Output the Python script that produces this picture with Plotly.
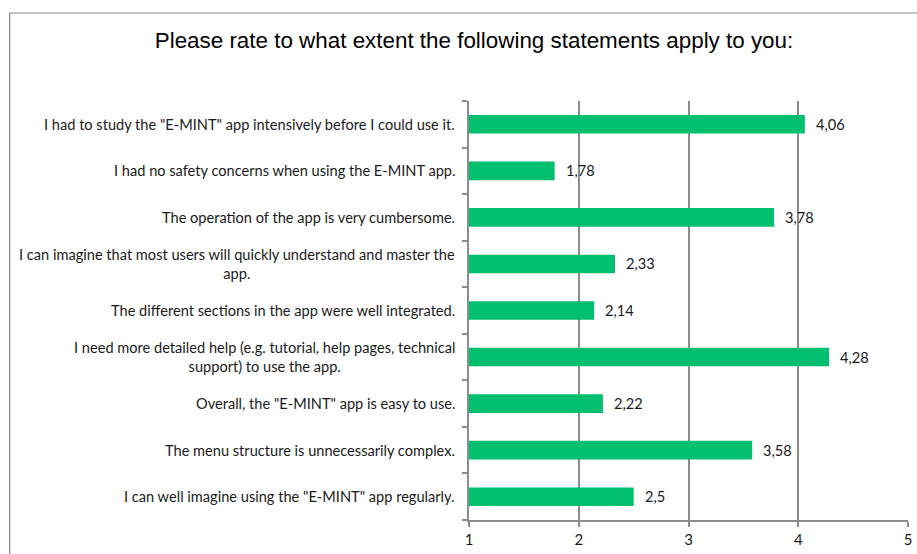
import plotly.graph_objects as go

# Survey statements (top to bottom) and their mean ratings on a 1-5 scale
statements = [
    'I had to study the "E-MINT" app intensively before I could use it.',
    'I had no safety concerns when using the E-MINT app.',
    'The operation of the app is very cumbersome.',
    'I can imagine that most users will quickly understand and master the<br>app.',
    'The different sections in the app were well integrated.',
    'I need more detailed help (e.g. tutorial, help pages, technical<br>support) to use the app.',
    'Overall, the "E-MINT" app is easy to use.',
    'The menu structure is unnecessarily complex.',
    'I can well imagine using the "E-MINT" app regularly.',
]
ratings = [4.06, 1.78, 3.78, 2.33, 2.14, 4.28, 2.22, 3.58, 2.5]
x_ticks = [1, 2, 3, 4, 5]

title_text = "Please rate to what extent the following statements apply to you:"

BAR_COLOR = "#00BF6F"
TEXT_COLOR = "#1a1a1a"
AXIS_COLOR = "#8c8c8c"
LABEL_FONT = "Lato, 'Open Sans', sans-serif"
LABEL_SIZE = 14.6

cats = list(range(len(statements)))
base = x_ticks[0]

fig = go.Figure(
    go.Bar(
        y=cats,
        x=[r - base for r in ratings],
        base=base,
        orientation="h",
        marker=dict(color=BAR_COLOR, line=dict(width=0)),
        width=0.4,
        hoverinfo="skip",
    )
)

# value labels to the right of each bar, with decimal comma
for c, r in zip(cats, ratings):
    fig.add_annotation(
        x=r, y=c, xref="x", yref="y",
        text=f"{r:g}".replace(".", ","),
        showarrow=False, xanchor="left", xshift=9,
        font=dict(family=LABEL_FONT, size=LABEL_SIZE, color=TEXT_COLOR),
    )

# category labels, centred within their block and right-aligned to the axis
for c, s in zip(cats, statements):
    fig.add_annotation(
        x=0, y=c, xref="paper", yref="y",
        text=s, showarrow=False, xanchor="right", xshift=-12,
        align="center",
        font=dict(family=LABEL_FONT, size=LABEL_SIZE, color=TEXT_COLOR),
    )

# chart outline
fig.add_shape(
    type="rect", xref="paper", yref="paper",
    x0=(5.5 - 469) / 443, x1=1.2, y0=-0.3, y1=(520 - 12.5) / 419.4,
    line=dict(color="#8a8a8a", width=1.2), fillcolor="rgba(0,0,0,0)", layer="below",
)

fig.update_layout(
    width=917, height=554,
    margin=dict(l=469, r=5, t=100.6, b=34),
    paper_bgcolor="white", plot_bgcolor="white",
    showlegend=False,
    title=dict(
        text=title_text, x=474 / 917, xref="container", xanchor="center",
        y=1 - 40 / 554, yref="container", yanchor="middle",
        font=dict(family="'Liberation Sans', Arial, sans-serif", size=22.4, color="#000000"),
    ),
    bargap=0.6,
)

fig.update_xaxes(
    range=[1, 5], tickvals=x_ticks, ticktext=[str(t) for t in x_ticks],
    showgrid=True, gridcolor=AXIS_COLOR, gridwidth=1.5,
    showline=True, linecolor=AXIS_COLOR, linewidth=1.5,
    ticks="outside", ticklen=5, tickcolor=AXIS_COLOR, tickwidth=1.5,
    tickfont=dict(family=LABEL_FONT, size=15, color=TEXT_COLOR),
    zeroline=False, fixedrange=True,
)
fig.update_yaxes(
    type="linear", range=[len(cats) - 0.5, -0.5],
    tickvals=[i - 0.5 for i in range(len(cats) + 1)], ticktext=[""] * (len(cats) + 1),
    showgrid=False, showline=True, linecolor=AXIS_COLOR, linewidth=1.5,
    ticks="outside", ticklen=5, tickcolor=AXIS_COLOR, tickwidth=1.5,
    zeroline=False, fixedrange=True,
)

fig.write_html("out.html")
